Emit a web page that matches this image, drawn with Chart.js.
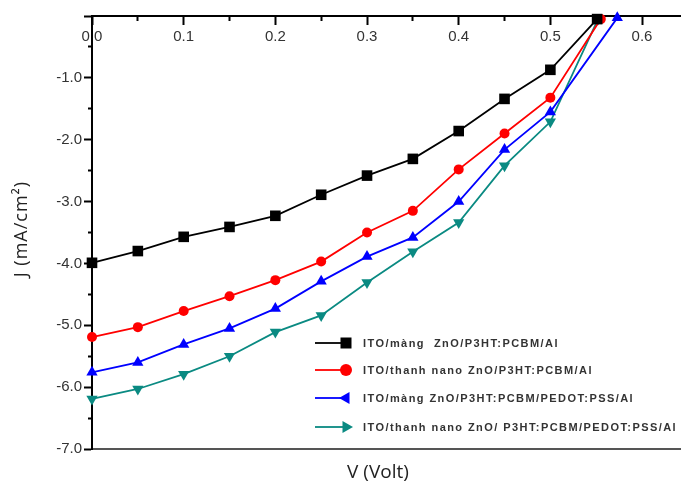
<!DOCTYPE html>
<html><head><meta charset="utf-8">
<script src="https://cdn.jsdelivr.net/npm/chart.js@4"></script>
<style>html,body{margin:0;padding:0;background:#fff}#wrap{width:681px;height:486px;position:relative}</style>
</head><body><div id="wrap"><canvas id="c"></canvas></div>
<script>
const seriesNames = [
  'ITO/màng  ZnO/P3HT:PCBM/Al',
  'ITO/thanh nano ZnO/P3HT:PCBM/Al',
  'ITO/màng ZnO/P3HT:PCBM/PEDOT:PSS/Al',
  'ITO/thanh nano ZnO/ P3HT:PCBM/PEDOT:PSS/Al'
];
const seriesColors = ['#000000', '#ff0000', '#0000ff', '#0a8a82'];
const vBlack = [0, 0.05, 0.1, 0.15, 0.2, 0.25, 0.3, 0.35, 0.4, 0.45, 0.5, 0.551];
const jBlack = [-3.99, -3.80, -3.57, -3.41, -3.23, -2.89, -2.58, -2.31, -1.86, -1.34, -0.87, -0.05];
const vRed = [0, 0.05, 0.1, 0.15, 0.2, 0.25, 0.3, 0.35, 0.4, 0.45, 0.5, 0.555];
const jRed = [-5.19, -5.03, -4.77, -4.53, -4.27, -3.97, -3.50, -3.15, -2.48, -1.90, -1.32, -0.05];
const vBlue = [0, 0.05, 0.1, 0.15, 0.2, 0.25, 0.3, 0.35, 0.4, 0.45, 0.5, 0.573];
const jBlue = [-5.76, -5.60, -5.31, -5.05, -4.73, -4.29, -3.89, -3.58, -3.00, -2.16, -1.55, -0.03];
const vTeal = [0, 0.05, 0.1, 0.15, 0.2, 0.25, 0.3, 0.35, 0.4, 0.45, 0.5, 0.552];
const jTeal = [-6.19, -6.03, -5.79, -5.50, -5.11, -4.84, -4.31, -3.81, -3.34, -2.42, -1.71, -0.05];
const xTickValues = [0, 0.1, 0.2, 0.3, 0.4, 0.5, 0.6];
const xTickLabels = ['0.0', '0.1', '0.2', '0.3', '0.4', '0.5', '0.6'];
const xMinorValues = [0.05, 0.15, 0.25, 0.35, 0.45, 0.55];
const yTickValues = [-7, -6, -5, -4, -3, -2, -1, 0];
const yTickLabels = ['-7.0', '-6.0', '-5.0', '-4.0', '-3.0', '-2.0', '-1.0', ''];
const yMinorValues = [-6.5, -5.5, -4.5, -3.5, -2.5, -1.5, -0.5];
const xTitle = 'V (Volt)';
const yTitle = 'J (mA/cm²)';

const X_MIN = 0, X_MAX = 0.6425, Y_MIN = -7, Y_MAX = 0;

function pts(v, j) { return v.map((x, i) => ({x: x, y: j[i]})); }
const styles = [
  {pointStyle: 'rect', radius: 7.5, rot: 0},
  {pointStyle: 'circle', radius: 5, rot: 0},
  {pointStyle: 'triangle', radius: 6.5, rot: 0},
  {pointStyle: 'triangle', radius: 6.5, rot: 180}
];
const allData = [pts(vBlack, jBlack), pts(vRed, jRed), pts(vBlue, jBlue), pts(vTeal, jTeal)];
const datasets = allData.map((d, i) => ({
  label: seriesNames[i], data: d,
  borderColor: seriesColors[i], backgroundColor: seriesColors[i],
  borderWidth: 1.8, pointStyle: styles[i].pointStyle, pointRadius: styles[i].radius,
  pointRotation: styles[i].rot, pointBorderWidth: 0, clip: false, tension: 0
}));

const tickFont = {family: '"Liberation Sans", Arial, sans-serif', size: 15};

const decor = {
  id: 'decor',
  afterDraw(chart) {
    const ctx = chart.ctx;
    ctx.save();
    ctx.fillStyle = '#222';
    ctx.textAlign = 'center'; ctx.textBaseline = 'middle';
    ctx.font = '19px "Open Sans", sans-serif';
    ctx.fillText(xTitle, 378, 473);
    ctx.save();
    ctx.font = '18px "Open Sans", sans-serif';
    ctx.translate(22, 229); ctx.rotate(-Math.PI / 2);
    ctx.letterSpacing = '1px';
    ctx.fillText(yTitle, 0, 0);
    ctx.restore();
    const rows = [343, 370, 398, 427];
    const rots = [0, 0, -90, 90];
    ctx.font = 'bold 11px "Liberation Sans", Arial, sans-serif';
    ctx.letterSpacing = '0px';
    const w0 = ctx.measureText(seriesNames[3]).width;
    const sp = (314 - w0) / seriesNames[3].length;
    ctx.letterSpacing = sp.toFixed(2) + 'px';
    ctx.textAlign = 'left';
    rows.forEach((y, i) => {
      const mx = 346;
      ctx.strokeStyle = seriesColors[i]; ctx.lineWidth = 1.8;
      ctx.beginPath(); ctx.moveTo(315, y); ctx.lineTo(mx, y); ctx.stroke();
      ctx.fillStyle = seriesColors[i];
      ctx.save(); ctx.translate(mx, y); ctx.rotate(rots[i] * Math.PI / 180);
      ctx.beginPath();
      if (i === 0) { ctx.rect(-5.5, -5.5, 11, 11); }
      else if (i === 1) { ctx.arc(0, 0, 6, 0, Math.PI * 2); }
      else { const r = 7; ctx.moveTo(0, -r); ctx.lineTo(r * 0.866, r * 0.5); ctx.lineTo(-r * 0.866, r * 0.5); ctx.closePath(); }
      ctx.fill(); ctx.restore();
      ctx.fillStyle = '#333';
      ctx.fillText(seriesNames[i], 363, y + 1);
    });
    ctx.restore();
  }
};

new Chart(document.getElementById('c'), {
  type: 'line',
  data: {datasets},
  options: {
    responsive: true, maintainAspectRatio: false, animation: false,
    layout: {autoPadding: false, padding: {left: 0, top: 16, right: 0, bottom: 37}},
    plugins: {legend: {display: false}, tooltip: {enabled: false}},
    scales: {
      x: {
        type: 'linear', position: {y: 0}, min: X_MIN, max: X_MAX,
        afterBuildTicks: s => { s.ticks = xTickValues.map(v => ({value: v})); },
        ticks: {callback: (v, i) => xTickLabels[i], color: '#333', font: tickFont, padding: 4, maxRotation: 0, autoSkip: false},
        grid: {display: true, drawOnChartArea: false, tickLength: 8, tickColor: '#000', tickWidth: 2},
        border: {display: true, color: '#000', width: 2}
      },
      xMinor: {
        type: 'linear', position: {y: 0}, min: X_MIN, max: X_MAX,
        afterBuildTicks: s => { s.ticks = xMinorValues.map(v => ({value: v})); },
        ticks: {display: false},
        grid: {display: true, drawOnChartArea: false, tickLength: 5, tickColor: '#000', tickWidth: 2},
        border: {display: false}
      },
      xb: {
        type: 'linear', position: {y: Y_MIN}, min: X_MIN, max: X_MAX,
        ticks: {display: false}, grid: {display: false},
        border: {display: true, color: '#555', width: 2}
      },
      y: {
        type: 'linear', position: 'left', min: Y_MIN, max: Y_MAX,
        afterFit: s => { s.width = 92; },
        afterBuildTicks: s => { s.ticks = yTickValues.map(v => ({value: v})); },
        ticks: {callback: (v, i) => yTickLabels[i], color: '#333', font: tickFont, padding: 2, autoSkip: false},
        grid: {display: true, drawOnChartArea: false, tickLength: 8, tickColor: '#000', tickWidth: 2},
        border: {display: true, color: '#000', width: 2}
      },
      yMinor: {
        type: 'linear', position: {x: 0}, min: Y_MIN, max: Y_MAX,
        afterBuildTicks: s => { s.ticks = yMinorValues.map(v => ({value: v})); },
        ticks: {display: false},
        grid: {display: true, drawOnChartArea: false, tickLength: 4, tickColor: '#000', tickWidth: 2},
        border: {display: false}
      }
    }
  },
  plugins: [decor]
});
</script></body></html>
